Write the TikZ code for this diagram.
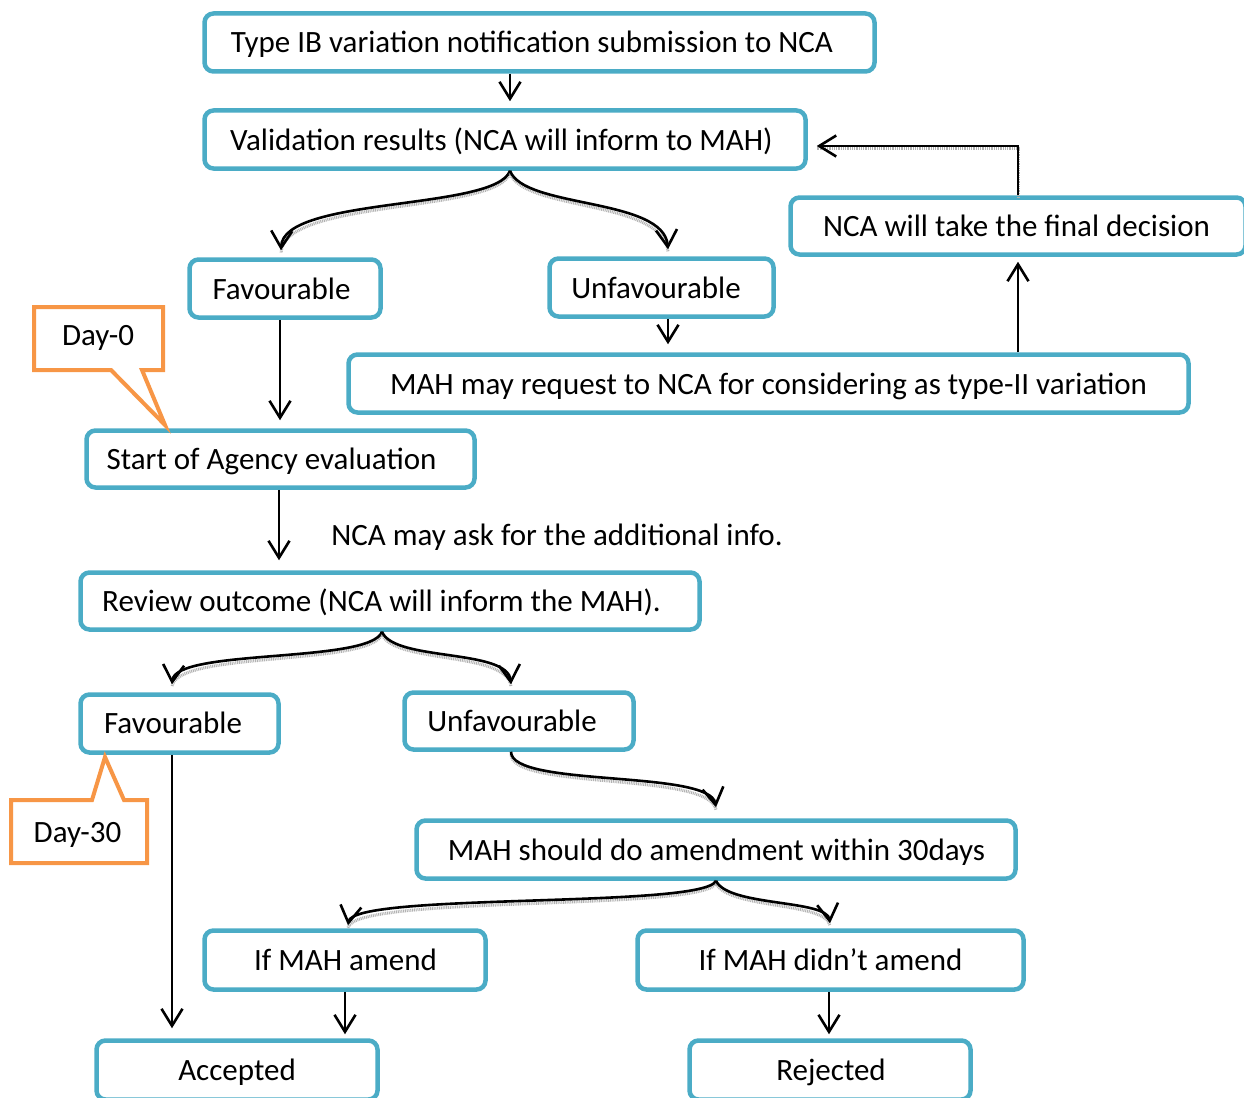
\documentclass[tikz,border=0pt]{standalone}
\usepackage{fontspec}
\setmainfont{Carlito}
\usetikzlibrary{arrows.meta}
\definecolor{boxblue}{HTML}{4BACC6}
\definecolor{callorange}{HTML}{F79646}
\begin{document}
\begin{tikzpicture}[x=1pt,y=-1pt,
  box/.style={draw=boxblue, line width=4.5pt, rounded corners=9pt, fill=white, inner sep=0pt},
  txt/.style={anchor=base, inner sep=0pt, font=\fontsize{31}{36}\selectfont},
  callout/.style={draw=callorange, line width=4pt, fill=white, line join=miter},
  flow/.style={draw=black, line width=2.6pt, -{Straight Barb[length=17pt,width=21pt,line width=2.6pt]}},
  sketch/.style={preaction={draw=gray!60, line width=3pt, dash pattern=on 1pt off 0.8pt, transform canvas={yshift=-2.5pt}, -}},
]
\useasboundingbox (0,0) rectangle (1244,1097);

% process boxes
\node[box, minimum width=670pt, minimum height=58pt] (sub) at (539.5,42.5) {};
\node[txt] (sub-t) at (532,53) {Type IB variation notification submission to NCA};

\node[box, minimum width=601pt, minimum height=58pt] (val) at (505,139.5) {};
\node[txt] (val-t) at (501.5,150) {Validation results (NCA will inform to MAH)};

\node[box, minimum width=455pt, minimum height=57pt] (fin) at (1018,226) {};
\node[txt] (fin-t) at (1016.5,236.5) {NCA will take the final decision};

\node[box, minimum width=191pt, minimum height=58pt] (fav1) at (285,288.5) {};
\node[txt] (fav1-t) at (281.5,299) {Favourable};

\node[box, minimum width=224pt, minimum height=58pt] (unf1) at (661.5,287.5) {};
\node[txt] (unf1-t) at (656,298) {Unfavourable};

\node[box, minimum width=840pt, minimum height=58pt] (req) at (768.5,383.5) {};
\node[txt] (req-t) at (768.5,394) {MAH may request to NCA for considering as type-II variation};

\node[box, minimum width=388pt, minimum height=57pt] (start) at (280.5,459) {};
\node[txt] (start-t) at (271.5,469.5) {Start of Agency evaluation};

\node[txt] (info) at (557,545) {NCA may ask for the additional info.};

\node[box, minimum width=619pt, minimum height=57pt] (rev) at (390,601) {};
\node[txt] (rev-t) at (381.5,611.5) {Review outcome (NCA will inform the MAH).};

\node[box, minimum width=198pt, minimum height=58pt] (fav2) at (179.5,723.5) {};
\node[txt] (fav2-t) at (173,733.5) {Favourable};

\node[box, minimum width=229pt, minimum height=57pt] (unf2) at (519,721) {};
\node[txt] (unf2-t) at (512,731.5) {Unfavourable};

\node[box, minimum width=599pt, minimum height=58pt] (amd) at (716,849.5) {};
\node[txt] (amd-t) at (716.5,860) {MAH should do amendment within 30days};

\node[box, minimum width=281pt, minimum height=59pt] (ifa) at (345,960) {};
\node[txt] (ifa-t) at (345.5,970.5) {If MAH amend};

\node[box, minimum width=386pt, minimum height=59pt] (ifn) at (830.5,960) {};
\node[txt] (ifn-t) at (830.5,970.5) {If MAH didn’t amend};

\node[box, minimum width=281pt, minimum height=59pt] (acc) at (237,1070) {};
\node[txt] (acc-t) at (237,1080.5) {Accepted};

\node[box, minimum width=281pt, minimum height=59pt] (rej) at (830,1070) {};
\node[txt] (rej-t) at (831,1080.5) {Rejected};

% day markers
\draw[callout] (34,307) -- (163,307) -- (163,370) -- (142,370) -- (165,425) -- (111,370) -- (34,370) -- cycle;
\node[txt] (day0) at (98,345) {Day-0};
\draw[callout] (11,800) -- (92,800) -- (105,757) -- (124,800) -- (147,800) -- (147,863) -- (11,863) -- cycle;
\node[txt] (day30) at (77.5,842) {Day-30};

% straight connectors
\draw[flow, shorten >=7pt] ([xshift=-29.5pt]sub.south) -- ([xshift=5pt]val.north);
\draw[flow, shorten >=8pt] ([xshift=-5pt]fav1.south) -- ([xshift=-0.5pt]start.north);
\draw[flow, shorten >=8pt] ([xshift=6.5pt]unf1.south) -- ([xshift=-100.5pt]req.north);
\draw[flow, shorten >=5pt] ([xshift=249.5pt]req.north) -- (fin.south);
\draw[flow, sketch, shorten >=9pt] (fin.north) |- ([yshift=-6.5pt]val.east);
\draw[flow, shorten >=10pt] ([xshift=-1.5pt]start.south) -- ([xshift=-111pt]rev.north);
\draw[flow, shorten >=10pt] ([xshift=-7.5pt]fav2.south) -- ([xshift=-65pt]acc.north);
\draw[flow, shorten >=4pt] (ifa.south) -- ([xshift=108pt]acc.north);
\draw[flow, shorten >=4pt] ([xshift=-1.5pt]ifn.south) -- ([xshift=-1pt]rej.north);

% branching curves
\draw[flow, sketch] ([xshift=5pt]val.south) .. controls +(-14,40) and +(2,-54) .. ([xshift=-4pt,yshift=7pt]fav1.north);
\draw[flow, sketch] ([xshift=5pt]val.south) .. controls +(14,38) and +(-4,-52) .. ([xshift=6.5pt,yshift=7pt]unf1.north);
\draw[flow, sketch] ([xshift=-8pt]rev.south) .. controls +(-12,32) and +(3,-36) .. ([xshift=-7.5pt,yshift=8pt]fav2.north);
\draw[flow, sketch] ([xshift=-8pt]rev.south) .. controls +(12,30) and +(-3,-36) .. ([xshift=-8pt,yshift=6pt]unf2.north);
\draw[flow, sketch] ([xshift=-8pt]unf2.south) .. controls +(0,36) and +(-6,-38) .. ([yshift=11pt]amd.north);
\draw[flow, sketch] (amd.south) .. controls +(-12,28) and +(5,-33) .. ([xshift=3pt,yshift=3pt]ifa.north);
\draw[flow, sketch] (amd.south) .. controls +(12,26) and +(-3,-24) .. ([xshift=-0.5pt,yshift=5pt]ifn.north);
\end{tikzpicture}
\end{document}
